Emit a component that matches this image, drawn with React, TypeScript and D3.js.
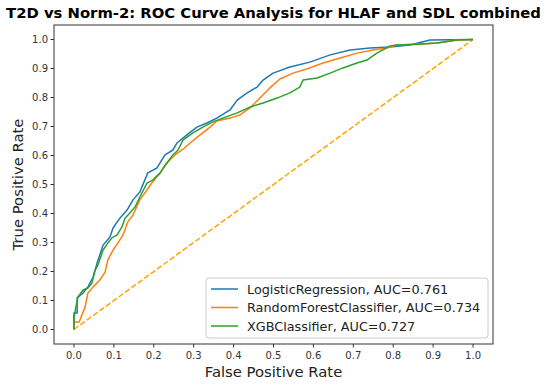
import React from "react";
import * as d3 from "d3";

const models = ["LogisticRegression", "RandomForestClassifier", "XGBClassifier"];
const aucs = [0.761, 0.734, 0.727];
const colors = ["#1f77b4", "#ff7f0e", "#2ca02c"];

const lrFpr = [0, 0, 0.008, 0.008, 0.023, 0.035, 0.048, 0.058, 0.073, 0.09, 0.098, 0.115, 0.133, 0.148, 0.165, 0.185, 0.208, 0.228, 0.248, 0.258, 0.283, 0.308, 0.333, 0.358, 0.391, 0.409, 0.434, 0.459, 0.474, 0.499, 0.541, 0.591, 0.642, 0.692, 0.742, 0.792, 0.842, 0.892, 1];
const lrTpr = [0, 0.057, 0.057, 0.109, 0.126, 0.147, 0.181, 0.229, 0.291, 0.319, 0.35, 0.384, 0.412, 0.447, 0.474, 0.54, 0.557, 0.602, 0.619, 0.643, 0.671, 0.698, 0.712, 0.729, 0.757, 0.791, 0.816, 0.836, 0.86, 0.884, 0.905, 0.922, 0.947, 0.964, 0.971, 0.974, 0.981, 0.998, 1];

const rfFpr = [0, 0, 0.013, 0.028, 0.035, 0.048, 0.065, 0.078, 0.085, 0.098, 0.11, 0.123, 0.135, 0.148, 0.165, 0.183, 0.195, 0.216, 0.228, 0.253, 0.271, 0.291, 0.316, 0.341, 0.358, 0.391, 0.416, 0.441, 0.466, 0.491, 0.516, 0.549, 0.591, 0.624, 0.667, 0.709, 0.749, 0.784, 0.809, 0.86, 0.91, 0.96, 1];
const rfTpr = [0, 0.026, 0.026, 0.078, 0.126, 0.147, 0.171, 0.198, 0.24, 0.274, 0.298, 0.326, 0.371, 0.395, 0.447, 0.481, 0.505, 0.54, 0.567, 0.602, 0.619, 0.643, 0.671, 0.698, 0.719, 0.729, 0.74, 0.764, 0.798, 0.833, 0.864, 0.884, 0.902, 0.919, 0.936, 0.953, 0.964, 0.971, 0.981, 0.984, 0.988, 0.998, 1];

const xgbFpr = [0, 0, 0.005, 0.01, 0.023, 0.035, 0.045, 0.053, 0.06, 0.073, 0.085, 0.095, 0.108, 0.12, 0.128, 0.14, 0.153, 0.165, 0.183, 0.198, 0.216, 0.233, 0.248, 0.261, 0.273, 0.298, 0.323, 0.348, 0.373, 0.409, 0.441, 0.474, 0.509, 0.541, 0.566, 0.574, 0.609, 0.642, 0.674, 0.709, 0.734, 0.759, 0.774, 0.792, 0.809, 0.86, 0.91, 0.96, 1];
const xgbTpr = [0, 0.04, 0.078, 0.112, 0.136, 0.143, 0.16, 0.205, 0.222, 0.274, 0.298, 0.316, 0.326, 0.353, 0.384, 0.402, 0.422, 0.457, 0.505, 0.516, 0.54, 0.574, 0.602, 0.619, 0.653, 0.678, 0.698, 0.716, 0.729, 0.747, 0.767, 0.781, 0.798, 0.816, 0.836, 0.86, 0.867, 0.884, 0.902, 0.919, 0.929, 0.953, 0.964, 0.978, 0.981, 0.984, 0.988, 0.998, 1];

const tickValues = [0, 0.1, 0.2, 0.3, 0.4, 0.5, 0.6, 0.7, 0.8, 0.9, 1.0];

const series = [
  { fpr: lrFpr, tpr: lrTpr },
  { fpr: rfFpr, tpr: rfTpr },
  { fpr: xgbFpr, tpr: xgbTpr },
];

const W = 546;
const H = 385;
const plot = { left: 54, right: 493, top: 25, bottom: 344 };
const font = "DejaVu Sans, sans-serif";

export default function App() {
  const x = d3.scaleLinear().domain([-0.05, 1.05]).range([plot.left, plot.right]);
  const y = d3.scaleLinear().domain([-0.05, 1.05]).range([plot.bottom, plot.top]);

  // roc points are joined straight, like plt.plot(fpr, tpr)
  const line = d3
    .line<[number, number]>()
    .x((d) => x(d[0]))
    .y((d) => y(d[1]));

  const fmt = d3.format(".1f");

  const legend = { x: 206, y: 278, w: 282, h: 60 };

  return (
    <svg
      width={W}
      height={H}
      style={{ position: "absolute", left: 0, top: 0, background: "#fff" }}
      fontFamily={font}
    >
      <rect x={0} y={0} width={W} height={H} fill="#fff" />
      <text
        x={(plot.left + plot.right) / 2}
        y={18}
        textAnchor="middle"
        fontSize={14.8}
        fontWeight="bold"
        fill="#000"
      >
        T2D vs Norm-2: ROC Curve Analysis for HLAF and SDL combined
      </text>

      {/* diagonal reference */}
      <line
        x1={x(0)}
        y1={y(0)}
        x2={x(1)}
        y2={y(1)}
        stroke="orange"
        strokeWidth={1.5}
        strokeDasharray="5.5,2.4"
      />

      {series.map((s, i) => (
        <path
          key={models[i]}
          d={line(s.fpr.map((f, j) => [f, s.tpr[j]] as [number, number])) || ""}
          fill="none"
          stroke={colors[i]}
          strokeWidth={1.5}
          strokeLinejoin="round"
        />
      ))}

      {/* frame */}
      <rect
        x={plot.left}
        y={plot.top}
        width={plot.right - plot.left}
        height={plot.bottom - plot.top}
        fill="none"
        stroke="#333"
        strokeWidth={1}
      />

      {/* x ticks */}
      {tickValues.map((t) => (
        <g key={"x" + t} transform={`translate(${x(t)},${plot.bottom})`}>
          <line y1={0} y2={3.5} stroke="#333" />
          <text y={15} textAnchor="middle" fontSize={10} fill="#333">
            {fmt(t)}
          </text>
        </g>
      ))}

      {/* y ticks */}
      {tickValues.map((t) => (
        <g key={"y" + t} transform={`translate(${plot.left},${y(t)})`}>
          <line x1={0} x2={-3.5} stroke="#333" />
          <text x={-6} dy="0.35em" textAnchor="end" fontSize={10} fill="#333">
            {fmt(t)}
          </text>
        </g>
      ))}

      <text
        x={(plot.left + plot.right) / 2}
        y={377}
        textAnchor="middle"
        fontSize={14.8}
        fill="#222"
      >
        False Positive Rate
      </text>
      <text
        transform={`translate(23,${(plot.top + plot.bottom) / 2}) rotate(-90)`}
        textAnchor="middle"
        fontSize={14.8}
        fill="#222"
      >
        True Positive Rate
      </text>

      {/* legend */}
      <rect
        x={legend.x}
        y={legend.y}
        width={legend.w}
        height={legend.h}
        rx={3}
        fill="#fff"
        fillOpacity={0.8}
        stroke="#ccc"
      />
      {models.map((m, i) => {
        const ly = legend.y + 11 + i * 18.5;
        return (
          <g key={"leg" + m}>
            <line
              x1={legend.x + 5}
              x2={legend.x + 32}
              y1={ly}
              y2={ly}
              stroke={colors[i]}
              strokeWidth={1.5}
            />
            <text
              x={legend.x + 41}
              y={ly}
              dy="0.36em"
              fontSize={12.8}
              fill="#222"
            >
              {`${m}, AUC=${aucs[i].toFixed(3)}`}
            </text>
          </g>
        );
      })}
    </svg>
  );
}
